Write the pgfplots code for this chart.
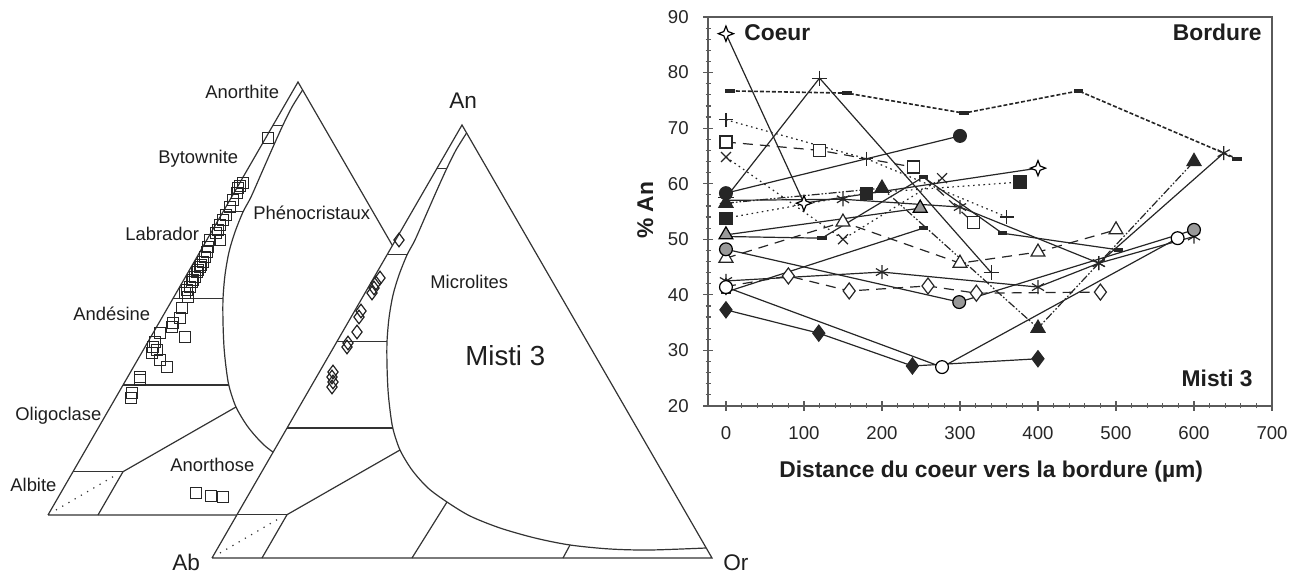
\documentclass[border=0pt]{standalone}
\usepackage{pgfplots}
\usepackage{pgfplotstable}
\pgfplotsset{compat=1.18}
\usepackage{fontspec}
\setmainfont{Liberation Sans}

\pgfdeclareplotmark{fourstar}{%
 \pgfpathmoveto{\pgfqpoint{0pt}{\pgfplotmarksize}}%
 \pgfpathlineto{\pgfqpoint{0.28\pgfplotmarksize}{0.28\pgfplotmarksize}}%
 \pgfpathlineto{\pgfqpoint{\pgfplotmarksize}{0pt}}%
 \pgfpathlineto{\pgfqpoint{0.28\pgfplotmarksize}{-0.28\pgfplotmarksize}}%
 \pgfpathlineto{\pgfqpoint{0pt}{-\pgfplotmarksize}}%
 \pgfpathlineto{\pgfqpoint{-0.28\pgfplotmarksize}{-0.28\pgfplotmarksize}}%
 \pgfpathlineto{\pgfqpoint{-\pgfplotmarksize}{0pt}}%
 \pgfpathlineto{\pgfqpoint{-0.28\pgfplotmarksize}{0.28\pgfplotmarksize}}%
 \pgfpathclose
 \pgfusepathqfillstroke}
\pgfdeclareplotmark{dashbar}{%
 \pgfpathrectangle{\pgfqpoint{-\pgfplotmarksize}{-0.35\pgfplotmarksize}}{\pgfqpoint{2\pgfplotmarksize}{0.7\pgfplotmarksize}}%
 \pgfusepathqfillstroke}

\definecolor{txt}{HTML}{1E1E1E}
\definecolor{ax}{HTML}{5A5A5A}

\pgfplotstableread{
x y
466.6 133
456 150
447 168
437 190
426 215
415 240
407 255
399 275
393 295
389 318
387 342
387 365
388 390
390 410
393 429
400 450
412 470
428 488
447 502
470 516
500 528
535 538
570 545
610 549
650 550
706 548
}\curve

\pgfplotsset{
 tern/.style={line width=0.6pt, black!80, mark=none},
 ln/.style={line width=0.6pt, black!85},
 dsh/.style={dash pattern=on 5pt off 3.5pt},
 dtt/.style={dash pattern=on 0.8pt off 1.8pt},
 ddsh/.style={dash pattern=on 2pt off 1pt, line width=0.8pt},
 dd2/.style={dash pattern=on 4pt off 1pt on 0.8pt off 1pt on 0.8pt off 1pt},
}
\tikzset{
 lab/.style={font=\fontsize{9.2}{11}\selectfont, text=txt, inner sep=0pt, anchor=base west},
 blab/.style={font=\fontsize{11.4}{13}\selectfont\bfseries, text=txt, inner sep=0pt},
}

\begin{document}
\begin{tikzpicture}
\useasboundingbox (0,0) rectangle (650pt,288pt);
% ---------- background axis in pixel coordinates ----------
\begin{axis}[at={(0pt,0pt)}, anchor=south west, width=650pt, height=288pt,
  scale only axis, xmin=0, xmax=1300, ymin=0, ymax=576, y dir=reverse,
  hide axis, clip=false]
 % first triangle (phenocrysts)
 \addplot[tern] coordinates {(48,515) (298,82) (548,515) (48,515)};
 \addplot[tern, smooth] table[x expr=\thisrow{x}-164, y expr=\thisrow{y}-43] {\curve};
 \addplot[tern] coordinates {(273,125.3) (283,125.3)};
 \addplot[tern] coordinates {(223.5,211.9) (243,211.9)};
 \addplot[tern] coordinates {(173,298.5) (223,298.5)};
 \addplot[tern] coordinates {(123,385.1) (229,385.1)};
 \addplot[tern] coordinates {(73,471.7) (123,471.7)};
 \addplot[tern] coordinates {(123,471.7) (236,407)};
 \addplot[tern] coordinates {(123,471.7) (98,515)};
 \addplot[tern, dash pattern=on 0.6pt off 3pt] coordinates {(56,510) (116,475)};
 \addplot[only marks, mark=square, mark size=2.8pt, black!85, mark options={line width=0.6pt}] coordinates {
 (268,138) (243,183) (240,186) (238,188) (237,193) (233,200) (230,207) (226,215) (223,220)
 (220,225) (218,230) (216,233) (220,240) (210,240) (208,247) (207,252) (205,257)
 (203,262) (201,265) (200,267) (198,270) (197,272) (195,277) (193,280) (192,282) (190,287) (187,290) (188,297)
 (185,293) (182,308) (180,318) (173,323) (172,327) (185,337) (160,333) (155,342)
 (153,347) (157,350) (152,353) (160,360) (167,367) (140,377) (140,380) (132,393)
 (131,398) (196,493) (211,496) (223,497)};
 % second triangle (microlites)
 \addplot[tern, fill=white] coordinates {(212,558) (462,125) (712,558) (212,558)};
 \addplot[tern, smooth] table {\curve};
 \addplot[tern] coordinates {(437,168.3) (447,168.3)};
 \addplot[tern] coordinates {(387.5,254.9) (407,254.9)};
 \addplot[tern] coordinates {(337,341.5) (387,341.5)};
 \addplot[tern] coordinates {(287,428.1) (393,428.1)};
 \addplot[tern] coordinates {(237,514.7) (287,514.7)};
 \addplot[tern] coordinates {(287,514.7) (400,450)};
 \addplot[tern] coordinates {(287,514.7) (262,558)};
 \addplot[tern] coordinates {(447,502) (412,558)};
 \addplot[tern] coordinates {(570,545) (563,558)};
 \addplot[tern, dash pattern=on 0.6pt off 3pt] coordinates {(220,553) (280,518)};
 \addplot[only marks, mark=diamond, mark size=3.4pt, black!85, mark options={line width=0.6pt}] coordinates {
 (399,240) (380,278) (376,283) (374,288) (372,293) (361,311) (359,317) (357,332)
 (348,343) (347,347) (333,372) (332,377) (333,382) (332,387)};
 % ternary labels
 \node[lab] at (axis cs:205,99) {Anorthite};
 \node[lab] at (axis cs:158,164) {Bytownite};
 \node[lab] at (axis cs:125,241) {Labrador};
 \node[lab] at (axis cs:73,321) {Andésine};
 \node[lab] at (axis cs:15,421) {Oligoclase};
 \node[lab] at (axis cs:10,492) {Albite};
 \node[lab] at (axis cs:170,472) {Anorthose};
 \node[lab] at (axis cs:253,220) {Phénocristaux};
 \node[lab] at (axis cs:430,289) {Microlites};
 \node[lab, font=\fontsize{13.8}{16}\selectfont] at (axis cs:465,366) {Misti 3};
 \node[lab, font=\fontsize{11.3}{13}\selectfont] at (axis cs:449,109) {An};
 \node[lab, font=\fontsize{11.3}{13}\selectfont] at (axis cs:172,570) {Ab};
 \node[lab, font=\fontsize{11.3}{13}\selectfont] at (axis cs:723,570) {Or};
 % chart texts
 \node[blab, anchor=base west] at (axis cs:744,41) {Coeur};
 \node[blab, anchor=base east] at (axis cs:1262,41) {Bordure};
 \node[blab, anchor=base east] at (axis cs:1253,387) {Misti 3};
 \node[blab, anchor=base west] at (axis cs:779,478) {Distance du coeur vers la bordure (µm)};
 \node[blab, anchor=base west, rotate=90] at (axis cs:653,239) {\% An};
\end{axis}
% ---------- line chart ----------
\begin{axis}[at={(354pt,85pt)}, anchor=south west, scale only axis,
  width=282pt, height=194.5pt,
  xmin=-23, xmax=700, ymin=20, ymax=90,
  xtick={0,100,...,700}, ytick={20,30,...,90},
  minor x tick num=4, minor y tick num=4,
  tick pos=left, tick align=center,
  major tick length=5pt, minor tick length=2.5pt,
  axis line style={draw=ax, line width=0.6pt},
  tick style={draw=ax, line width=0.6pt},
  ticklabel style={font=\fontsize{9.3}{11}\selectfont, text=black!85, inner sep=0pt},
  xticklabel style={anchor=north, yshift=-7.5pt},
  yticklabel style={anchor=east, xshift=-7pt},
  /pgf/number format/assume math mode=true,
  clip=false]
 % D dense dashed, bar markers
 \addplot[ln, ddsh, mark=dashbar, mark size=2pt, mark options={solid}] coordinates {(5,76.7) (155,76.3) (305,72.7) (452,76.7) (655,64.5)};
 % E open squares dashed
 \addplot[ln, dsh, mark=square*, mark size=3pt, mark options={solid, fill=white}] coordinates {(0,67.5) (120,66) (240,63) (317,53)};
 % C plus dotted
 \addplot[ln, dtt, mark=+, mark size=3.5pt, mark options={solid}] coordinates {(0,71.5) (180,64.5) (360,54)};
 % F cross dotted
 \addplot[ln, dtt, mark=x, mark size=3.5pt, mark options={solid}] coordinates {(0,64.8) (150,50) (277,61)};
 % G filled squares dotted
 \addplot[ln, dtt, mark=square*, mark size=3pt, mark options={solid}] coordinates {(0,53.8) (180,58.3) (377,60.3)};
 % H filled triangles dash-dot-dot
 \addplot[ln, dd2, mark=triangle*, mark size=4pt, mark options={solid}] coordinates {(0,56.5) (200,59.2) (400,34) (600,64)};
 % I asterisk solid
 \addplot[ln, mark=asterisk, mark size=3.5pt] coordinates {(0,57) (150,57.2) (300,55.8) (478,45.7) (638,65.5)};
 % J asterisk solid
 \addplot[ln, mark=asterisk, mark size=3.5pt] coordinates {(0,42.5) (200,44.1) (400,41.4) (478,45.7) (600,50.5)};
 % R bar solid
 \addplot[ln, mark=dashbar, mark size=2pt] coordinates {(0,50.5) (123,50.2) (253,61.2) (354,51.1) (503,48.1)};
 % S bar solid
 \addplot[ln, mark=dashbar, mark size=2pt] coordinates {(0,40.5) (253,52)};
 % K open diamonds dashed
 \addplot[ln, dsh, mark=diamond*, mark size=4pt, mark options={solid, fill=white}] coordinates {(0,41.5) (80,43.4) (158,40.7) (259,41.6) (321,40.3) (480,40.5)};
 % Q open triangles dashed
 \addplot[ln, dsh, mark=triangle*, mark size=4pt, mark options={solid, fill=white}] coordinates {(0,46.6) (150,53.1) (300,45.7) (400,47.7) (500,51.7)};
 % P gray triangles
 \addplot[ln, mark=triangle*, mark size=4pt, mark options={fill=black!40, draw=black}] coordinates {(0,50.8) (249,55.6)};
 % L filled circles
 \addplot[ln, mark=*, mark size=3.2pt] coordinates {(0,58.3) (300,68.6)};
 % M gray circles
 \addplot[ln, mark=*, mark size=3.2pt, mark options={fill=black!40, draw=black}] coordinates {(0,48.2) (299,38.7) (600,51.7)};
 % N open circles
 \addplot[ln, mark=*, mark size=3.2pt, mark options={fill=white, draw=black}] coordinates {(0,41.4) (277,27) (579,50.2)};
 % O filled diamonds
 \addplot[ln, mark=diamond*, mark size=4pt] coordinates {(0,37.3) (119,33.1) (239,27.2) (400,28.5)};
 % B plus solid
 \addplot[ln, mark=+, mark size=3.8pt] coordinates {(0,57.5) (120,79) (340,44)};
 % A four-point star
 \addplot[ln, mark=fourstar, mark size=3.8pt, mark options={fill=white, draw=black}] coordinates {(0,87) (100,56.5) (400,62.8)};
\end{axis}
\end{tikzpicture}
\end{document}
